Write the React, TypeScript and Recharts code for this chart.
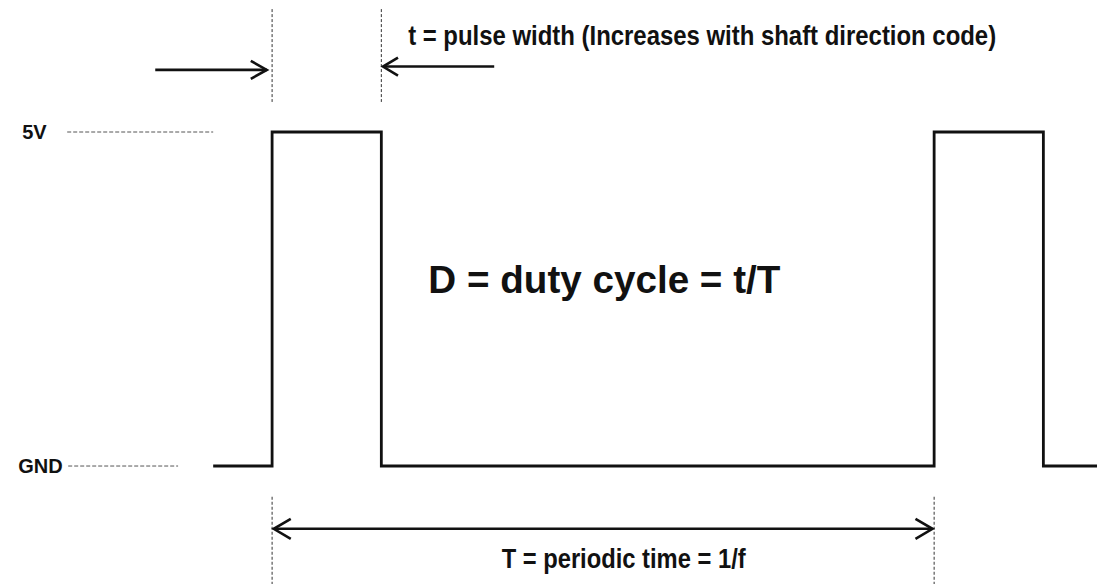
import React from "react";
import { ComposedChart, Line, XAxis, YAxis, ReferenceLine, ReferenceDot } from "recharts";

// time in ms, level in volts (held until the next edge)
const waveTime = [-1.78, 0, 3.3, 20, 23.3, 24.92];
const waveLevel = [0, 5, 0, 5, 0, 0];
const levelNames = ["5V", "GND"];
const levelValues = [5, 0];
const pulseWidth = 3.3;
const period = 20;

const data = waveTime.map((t, i) => ({ t, v: waveLevel[i] }));

const X_DOMAIN: [number, number] = [-8.22, 24.92];
const Y_DOMAIN: [number, number] = [-1.766, 6.976];

const FONT = "'Liberation Sans', Arial, sans-serif";
const INK = "#111";

const arrowShape = (startHead: boolean, endHead: boolean, len: number, half: number) => (p: any) => {
  const { x1, y1, x2, y2 } = p;
  const dx = x2 - x1, dy = y2 - y1;
  const d = Math.hypot(dx, dy) || 1;
  const ux = dx / d, uy = dy / d;
  const nx = -uy, ny = ux;
  const head = (tx: number, ty: number, sx: number, sy: number) =>
    `${tx - len * sx + half * nx},${ty - len * sy + half * ny} ${tx},${ty} ${tx - len * sx - half * nx},${ty - len * sy - half * ny}`;
  return (
    <g>
      <line x1={x1} y1={y1} x2={x2} y2={y2} stroke={INK} strokeWidth={2.6} />
      {endHead && <polyline points={head(x2, y2, ux, uy)} fill="none" stroke={INK} strokeWidth={2.6} />}
      {startHead && <polyline points={head(x1, y1, -ux, -uy)} fill="none" stroke={INK} strokeWidth={2.6} />}
    </g>
  );
};

const textShape = (label: string, size: number, anchor: string, fit?: number) => (p: any) => (
  <text x={p.cx} y={p.cy} fontFamily={FONT} fontWeight="bold" fontSize={size} fill={INK} textAnchor={anchor}
    {...(fit ? { textLength: fit, lengthAdjust: "spacingAndGlyphs" } : {})}>
    {label}
  </text>
);

const levelLabelX = [-7.55, -7.67];

export default function App() {
  return (
    <div style={{ position: "absolute", left: 0, top: 0, width: 1097, height: 584, background: "#fff" }}>
      <ComposedChart width={1097} height={584} data={data} margin={{ top: 0, right: 0, bottom: 0, left: 0 }}>
        <XAxis dataKey="t" type="number" domain={X_DOMAIN} hide allowDataOverflow />
        <YAxis type="number" domain={Y_DOMAIN} hide allowDataOverflow />

        {/* level guides */}
        <ReferenceLine segment={[{ x: -6.19, y: levelValues[0] }, { x: -1.78, y: levelValues[0] }]} stroke="#555" strokeWidth={1} strokeDasharray="4 2" />
        <ReferenceLine segment={[{ x: -6.16, y: levelValues[1] }, { x: -2.84, y: levelValues[1] }]} stroke="#555" strokeWidth={1} strokeDasharray="4 2" />
        {levelNames.map((n, i) => (
          <ReferenceDot key={n} x={levelLabelX[i]} y={levelValues[i]} r={0}
            shape={(p: any) => textShape(n, 20, "start")({ cx: p.cx, cy: p.cy + 7 })} />
        ))}

        {/* edge markers */}
        <ReferenceLine segment={[{ x: 0, y: 6.84 }, { x: 0, y: 5.45 }]} stroke="#333" strokeWidth={1} strokeDasharray="3 2" />
        <ReferenceLine segment={[{ x: pulseWidth, y: 6.84 }, { x: pulseWidth, y: 5.45 }]} stroke="#333" strokeWidth={1} strokeDasharray="3 2" />
        <ReferenceLine segment={[{ x: 0, y: -0.46 }, { x: 0, y: -1.766 }]} stroke="#333" strokeWidth={1} strokeDasharray="3 2" />
        <ReferenceLine segment={[{ x: period, y: -0.46 }, { x: period, y: -1.766 }]} stroke="#333" strokeWidth={1} strokeDasharray="3 2" />

        {/* arrows */}
        <ReferenceLine segment={[{ x: -3.53, y: 5.93 }, { x: -0.16, y: 5.93 }]} shape={arrowShape(false, true, 16, 9)} />
        <ReferenceLine segment={[{ x: 6.71, y: 5.98 }, { x: 3.35, y: 5.98 }]} shape={arrowShape(false, true, 15, 9)} />
        <ReferenceLine segment={[{ x: 0.05, y: -0.94 }, { x: period - 0.05, y: -0.94 }]} shape={arrowShape(true, true, 17, 10)} />

        <Line dataKey="v" type="stepAfter" stroke={INK} strokeWidth={2.8} dot={false} activeDot={false}
          strokeLinejoin="miter" isAnimationActive={false} />

        <ReferenceDot x={4.11} y={6.3} r={0} shape={textShape("t = pulse width (Increases with shaft direction code)", 28, "start", 588)} />
        <ReferenceDot x={4.72} y={2.59} r={0} shape={textShape("D = duty cycle = t/T", 39, "start", 352)} />
        <ReferenceDot x={10.62} y={-1.53} r={0} shape={textShape("T = periodic time = 1/f", 28, "middle", 244)} />
      </ComposedChart>
    </div>
  );
}
